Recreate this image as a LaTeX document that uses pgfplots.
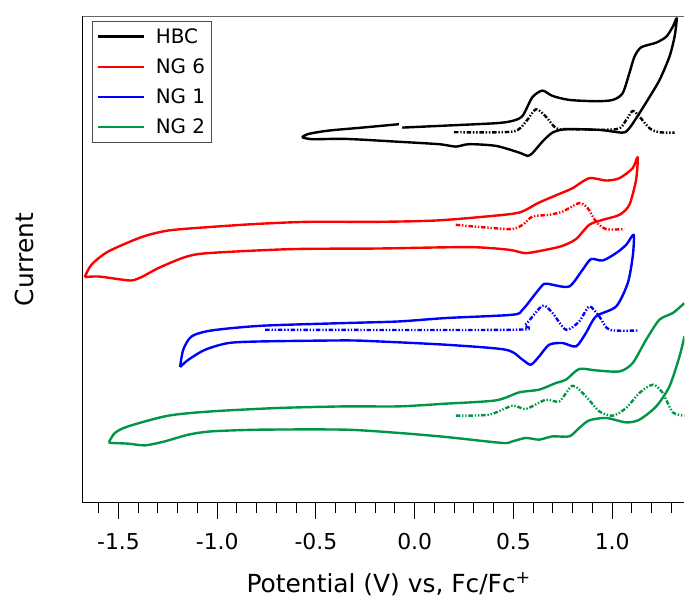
\documentclass[border=0pt]{standalone}
\usepackage{fontspec}
\setmainfont{DejaVu Sans}
\usepackage{pgfplots}
\pgfplotsset{compat=1.18}
\definecolor{ngred}{RGB}{255,0,0}
\definecolor{ngblue}{RGB}{0,0,255}
\definecolor{nggreen}{RGB}{0,150,70}
\tikzset{ddot/.style={dash pattern=on 4.5bp off 1.8bp on 1.4bp off 1.8bp on 1.4bp off 1.8bp}}

\begin{document}
\begin{tikzpicture}
\begin{axis}[scale only axis,width=602bp,height=486.5bp,
  xmin=-1.68,xmax=1.366,ymin=96,ymax=582.5,
  axis x line*=bottom,axis y line*=left,
  axis line style={-,black,line width=1.1bp},
  ytick=\empty,
  xtick={-1.5,-1,...,1},
  minor xtick={-1.6,-1.5,...,1.31},
  tick align=outside,
  major tick length=16bp,minor tick length=10bp,
  every tick/.style={black,line width=1bp},
  xticklabel style={font=\fontsize{22}{26}\selectfont,anchor=base,yshift=-31bp},
  /pgf/number format/.cd,fixed,fixed zerofill,precision=1,assume math mode=true,
  /pgfplots/.cd,
  xlabel={Potential (V) vs, Fc/Fc\textsuperscript{+}},
  xlabel style={font=\fontsize{25}{30}\selectfont,at={(rel axis cs:0.5,0)},anchor=base,yshift=-90bp,xshift=5bp},
  ylabel={Current},
  ylabel style={font=\fontsize{25}{30}\selectfont,at={(rel axis cs:0,0.5)},anchor=center,yshift=59bp},
  unbounded coords=jump,
  every axis plot post/.append style={line width=2.4bp,line join=round,smooth,tension=0.45},
  legend cell align=left,
  legend style={at={(rel axis cs:0,1)},anchor=north west,xshift=9.3bp,yshift=-4.5bp,
    font=\fontsize{20}{24}\selectfont,draw=black!70,line width=0.9bp,
    inner xsep=4bp,inner ysep=5bp,row sep=10bp,column sep=9bp},
  legend image code/.code={\draw[#1,line width=2.2bp,sharp plot] (0bp,0bp) -- (46bp,0bp);},
]
% HBC
\addplot[black] coordinates {
(-0.571,461.7) (-0.537,465) (-0.436,468.3) (-0.266,471.3) (-0.080,474.7) (-0.080,nan)
(-0.063,471.3) (0.157,473.3) (0.411,475.7) (0.495,478) (0.546,483) (0.596,501.7)
(0.647,508.3) (0.698,503) (0.783,499) (0.918,497.7) (1.003,499) (1.053,505.7)
(1.087,525.7) (1.113,542.3) (1.147,551.7) (1.223,556.3) (1.274,562.3) (1.307,572.3)
(1.327,580.7) (1.316,562.3) (1.290,542.3) (1.240,519) (1.180,499) (1.138,485.7)
(1.087,470.7) (1.053,466.3) (0.935,469) (0.766,469.7) (0.698,466.3) (0.647,457.3)
(0.596,445.7) (0.571,443) (0.529,446.3) (0.411,453) (0.275,454.7) (0.208,452.3)
(0.123,454.7) (-0.097,457.3) (-0.351,460) (-0.520,459.7) (-0.571,461.7)};
\addlegendentry{HBC}
% NG 6
\addplot[ngred] coordinates {
(-1.671,321.7) (-1.637,334) (-1.552,347.3) (-1.383,361.7) (-1.248,368.3) (-1.045,371.7)
(-0.791,375) (-0.537,377) (-0.182,377) (0.106,378.3) (0.360,382.3) (0.529,386.3)
(0.630,396.3) (0.749,406.3) (0.800,410.7) (0.884,420.7) (0.969,418.3) (1.037,420.7)
(1.104,430.7) (1.129,441.7) (1.121,419) (1.087,394) (1.037,384) (0.952,379)
(0.884,374) (0.817,359.7) (0.749,353) (0.681,349.7) (0.563,345.7) (0.478,349)
(0.275,351.7) (-0.182,350.3) (-0.622,349.7) (-1.045,345.7) (-1.163,341.7) (-1.298,330.7)
(-1.383,321.7) (-1.434,318.3) (-1.502,319.7) (-1.603,322.3) (-1.671,321.7)};
\addlegendentry{NG 6}
% NG 1
\addplot[ngblue] coordinates {
(-1.188,231.7) (-1.172,249) (-1.130,262.3) (-1.028,268.3) (-0.774,273) (-0.351,275.7)
(-0.080,277.3) (0.157,280.7) (0.495,284) (0.546,289) (0.614,305.7) (0.656,315)
(0.698,314) (0.783,312.3) (0.850,329) (0.893,339.7) (0.952,338.3) (1.020,345.7)
(1.071,354) (1.109,364) (1.104,342.3) (1.079,315.7) (1.020,292.3) (0.918,282.3)
(0.867,265.7) (0.817,252.3) (0.749,255.7) (0.681,254) (0.630,242.3) (0.588,234)
(0.546,239) (0.461,249) (0.157,254) (-0.182,257.3) (-0.351,258.3) (-0.774,257.3)
(-0.943,255.7) (-1.061,249) (-1.146,239) (-1.188,231.7)};
\addlegendentry{NG 1}
% NG 2
\addplot[nggreen] coordinates {
(-1.549,156.3) (-1.518,165.7) (-1.451,172.3) (-1.248,183) (-1.028,187.3) (-0.689,190.7)
(-0.351,192.3) (-0.080,192.3) (0.157,195) (0.411,198.3) (0.529,206.3) (0.630,209)
(0.715,215.7) (0.766,219) (0.833,229.7) (0.918,228.3) (1.037,227.3) (1.104,235.7)
(1.172,259) (1.239,279) (1.307,285.7) (1.366,295.7) (1.366,nan)
(1.366,262.3) (1.341,242.3) (1.290,212.3) (1.223,192.3) (1.138,179) (1.071,176.3)
(0.969,180.7) (0.884,178.3) (0.833,170.7) (0.783,162.3) (0.698,162.3) (0.630,159)
(0.563,160.7) (0.495,157.3) (0.444,155.7) (0.157,161.7) (-0.080,165.7) (-0.351,169)
(-0.774,169) (-1.028,167.3) (-1.146,164) (-1.265,157.3) (-1.366,153.3) (-1.451,155)
(-1.536,155.7) (-1.549,156.3)};
\addlegendentry{NG 2}
% differential pulse traces
\addplot[black,ddot,forget plot] coordinates {
(0.199,466.7) (0.495,467.3) (0.563,477.3) (0.614,489.7) (0.664,482.3) (0.715,470.7)
(0.766,469.7) (1.020,469.7) (1.071,479) (1.104,488) (1.138,482.3) (1.189,470.7)
(1.239,466.7) (1.316,466.3)};
\addplot[ngred,ddot,forget plot] coordinates {
(0.208,374) (0.478,369.7) (0.546,374) (0.596,382.3) (0.681,384) (0.749,387.3)
(0.833,395.7) (0.876,390.7) (0.918,377.3) (0.969,369.7) (1.062,369.7)};
\addplot[ngblue,ddot,forget plot] coordinates {
(-0.757,269) (0.500,269) (0.560,274) (0.647,293) (0.698,285.7) (0.766,269)
(0.833,277.3) (0.884,292.3) (0.935,282.3) (0.986,269) (1.129,268.3)};
\addplot[nggreen,ddot,forget plot] coordinates {
(0.208,183) (0.377,184) (0.495,193) (0.563,189.7) (0.664,199) (0.732,197.3)
(0.800,213) (0.867,202.3) (0.935,187.3) (1.003,183) (1.071,190.7) (1.138,205.7)
(1.206,214) (1.256,205.7) (1.307,186.3) (1.366,183)};
\draw[black!60,line width=1.1bp] (rel axis cs:0,1) -- (rel axis cs:1,1);
\coordinate (sw) at (rel axis cs:0,0);
\coordinate (ne) at (rel axis cs:1,1);
\end{axis}
\path ([shift={(-83bp,-96bp)}]sw) rectangle ([shift={(0bp,16.5bp)}]ne);
\end{tikzpicture}
\end{document}
